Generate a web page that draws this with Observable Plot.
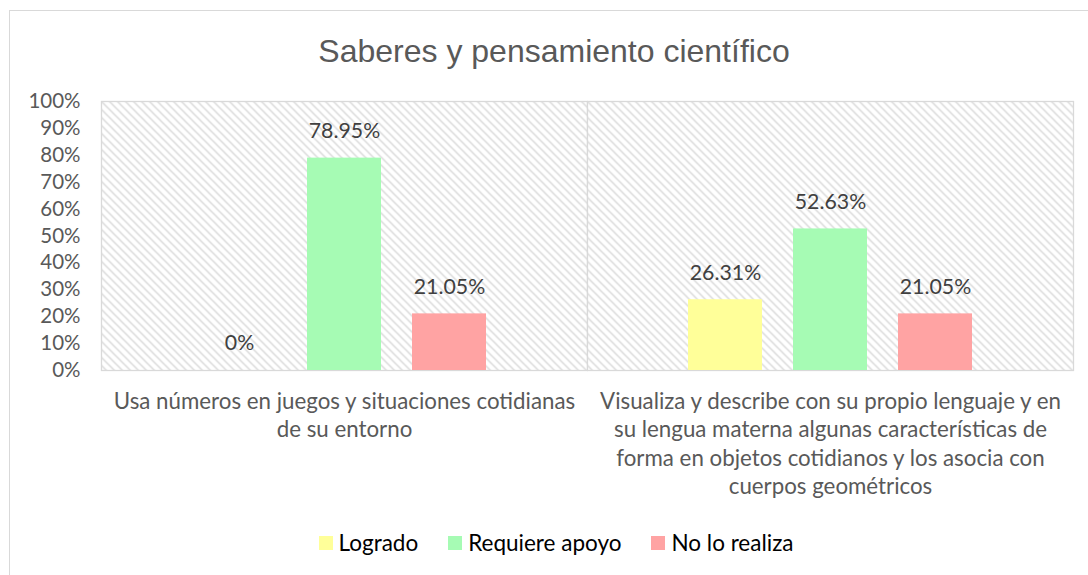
<!DOCTYPE html>
<html>
<head>
<meta charset="utf-8">
<script src="https://cdn.jsdelivr.net/npm/d3@7"></script>
<script src="https://cdn.jsdelivr.net/npm/@observablehq/plot@0.6"></script>
<style>
  html, body { margin: 0; padding: 0; background: #fff; }
  #wrap { position: relative; width: 1088px; height: 575px; overflow: hidden; font-family: Lato, "Open Sans", sans-serif; }
  #border { position: absolute; left: 9px; top: 10px; width: 1100px; height: 600px; border: 1px solid #d9d9d9; box-sizing: border-box; }
  #title { position: absolute; left: 0; width: 1108px; top: 33px; text-align: center; font-family: "Liberation Sans Narrow", "Liberation Sans", sans-serif; font-size: 32px; color: #595959; line-height: 36px; }
  #chart { position: absolute; left: 0; top: 0; }
  #legend { position: absolute; left: 0; width: 1112px; top: 529px; display: flex; justify-content: center; gap: 30px; font-size: 22.5px; color: #000; line-height: 28px; }
  .item { display: flex; align-items: center; }
  .sw { width: 14px; height: 14px; margin-right: 6px; }
</style>
</head>
<body>
<div id="wrap">
  <div id="border"></div>
  <div id="chart"></div>
  <div id="title">Saberes y pensamiento científico</div>
  <div id="legend"></div>
</div>
<script>
const categories = [
  "Usa números en juegos y situaciones cotidianas de su entorno",
  "Visualiza y describe con su propio lenguaje y en su lengua materna algunas características de forma en objetos cotidianos y los asocia con cuerpos geométricos"
];
const categoryLabels = [
  "Usa números en juegos y situaciones cotidianas\nde su entorno",
  "Visualiza y describe con su propio lenguaje y en\nsu lengua materna algunas características de\nforma en objetos cotidianos y los asocia con\ncuerpos geométricos"
];
const series = ["Logrado", "Requiere apoyo", "No lo realiza"];
const logrado = [0, 26.31];
const requiereApoyo = [78.95, 52.63];
const noLoRealiza = [21.05, 21.05];
const yTicks = [0, 10, 20, 30, 40, 50, 60, 70, 80, 90, 100];
const seriesColors = ["#ffff99", "#a6fbb4", "#ffa3a3"];

const seriesValues = [logrado, requiereApoyo, noLoRealiza];
const data = [];
categories.forEach((c, i) => {
  series.forEach((s, j) => data.push({cat: c, serie: s, value: seriesValues[j][i]}));
});
const labelOf = new Map(categories.map((c, i) => [c, categoryLabels[i]]));
const fmt = v => v === 0 ? "0%" : v.toFixed(2) + "%";

const plot = Plot.plot({
  width: 1088,
  height: 575,
  marginTop: 101,
  marginLeft: 101,
  marginRight: 15,
  marginBottom: 205,
  style: {fontFamily: "Lato, 'Open Sans', sans-serif", fontSize: "20px", color: "#595959", background: "transparent"},
  fx: {domain: categories, padding: 0, label: null},
  x: {domain: series, paddingInner: 0.297, paddingOuter: 0.941, axis: null},
  y: {domain: [0, 100], label: null},
  color: {domain: series, range: seriesColors},
  marks: [
    Plot.frame({fill: "url(#hatch)", stroke: "#d9d9d9", strokeWidth: 1.3}),
    Plot.barY(data, {fx: "cat", x: "serie", y: "value", fill: "serie"}),
    Plot.text(data, {fx: "cat", x: "serie", y: "value", text: d => fmt(d.value), dy: -27, lineAnchor: "middle", fill: "#404040", fontSize: 21.3}),
    Plot.axisY(yTicks, {anchor: "left", tickSize: 0, tickPadding: 21, tickFormat: d => d + "%", fill: "#595959", fontSize: 20.5, label: null}),
    Plot.axisFx({anchor: "bottom", tickSize: 0, tickPadding: 18, tickFormat: d => labelOf.get(d), fill: "#595959", fontSize: 22.3, lineHeight: 1.28, label: null})
  ]
});

// hatch pattern
const svg = d3.select(plot);
const defs = svg.insert("defs", ":first-child");
const pat = defs.append("pattern").attr("id", "hatch").attr("patternUnits", "userSpaceOnUse").attr("width", 8).attr("height", 8);
pat.append("rect").attr("width", 8).attr("height", 8).attr("fill", "#ffffff");
pat.append("path").attr("d", "M-2,-2L10,10M-2,6L2,10M6,-2L10,2").attr("stroke", "#d6d6d6").attr("stroke-width", 1.3).attr("fill", "none");

document.getElementById("chart").appendChild(plot);

const legend = document.getElementById("legend");
series.forEach((s, i) => {
  const it = document.createElement("div");
  it.className = "item";
  const sw = document.createElement("span");
  sw.className = "sw";
  sw.style.background = seriesColors[i];
  const t = document.createElement("span");
  t.textContent = s;
  it.appendChild(sw); it.appendChild(t);
  legend.appendChild(it);
});
</script>
</body>
</html>
